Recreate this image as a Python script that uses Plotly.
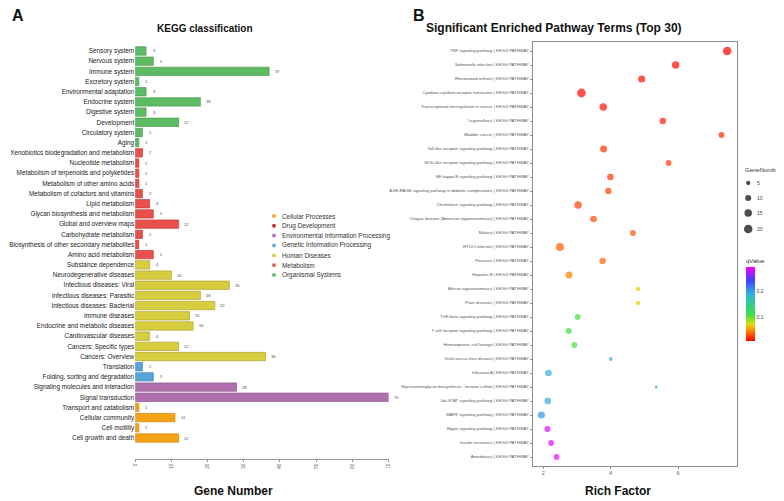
import plotly.graph_objects as go

# Reference page size; the page body keeps an 8px margin, so the figure starts at (8, 8)
W, H = 784, 501
OFF = 8
FW, FH = W - OFF, H - OFF

# ---------------- Panel A data ----------------
kegg_terms = [
    "Sensory system", "Nervous system", "Immune system", "Excretory system",
    "Environmental adaptation", "Endocrine system", "Digestive system", "Development",
    "Circulatory system", "Aging",
    "Xenobiotics biodegradation and metabolism", "Nucleotide metabolism",
    "Metabolism of terpenoids and polyketides", "Metabolism of other amino acids",
    "Metabolism of cofactors and vitamins", "Lipid metabolism",
    "Glycan biosynthesis and metabolism", "Global and overview maps",
    "Carbohydrate metabolism", "Biosynthesis of other secondary metabolites",
    "Amino acid metabolism",
    "Substance dependence", "Neurodegenerative diseases", "Infectious diseases: Viral",
    "Infectious diseases: Parasitic", "Infectious diseases: Bacterial", "Immune diseases",
    "Endocrine and metabolic diseases", "Cardiovascular diseases", "Cancers: Specific types",
    "Cancers: Overview",
    "Translation", "Folding, sorting and degradation",
    "Signaling molecules and interaction", "Signal transduction",
    "Transport and catabolism", "Cellular community", "Cell motility", "Cell growth and death",
]
kegg_counts = [3, 5, 37, 1, 3, 18, 3, 12, 2, 1,
               2, 1, 1, 1, 2, 4, 5, 12, 2, 1, 5,
               4, 10, 26, 18, 22, 15, 16, 4, 12, 36,
               2, 5,
               28, 70,
               1, 11, 1, 12]
kegg_groups = (["Organismal Systems"] * 10 + ["Metabolism"] * 11 + ["Human Diseases"] * 10 +
               ["Genetic Information Processing"] * 2 +
               ["Environmental Information Processing"] * 2 + ["Cellular Processes"] * 4)

group_names = ["Cellular Processes", "Drug Development", "Environmental Information Processing",
               "Genetic Information Processing", "Human Diseases", "Metabolism", "Organismal Systems"]
group_fill = {"Cellular Processes": "#F5A316", "Drug Development": "#C41E24",
              "Environmental Information Processing": "#B070AF",
              "Genetic Information Processing": "#5AA4DC", "Human Diseases": "#D8CD3E",
              "Metabolism": "#E8504C", "Organismal Systems": "#5DBB63"}
group_line = {"Cellular Processes": "#D08810", "Drug Development": "#A01418",
              "Environmental Information Processing": "#8E5A8E",
              "Genetic Information Processing": "#4784B2", "Human Diseases": "#ADA32E",
              "Metabolism": "#C43E3B", "Organismal Systems": "#4A9A50"}

# ---------------- Panel B data ----------------
pathways = [
    "TNF signaling pathway", "Salmonella infection", "Rheumatoid arthritis",
    "Cytokine-cytokine receptor interaction", "Transcriptional misregulation in cancer",
    "Legionellosis", "Bladder cancer", "Toll-like receptor signaling pathway",
    "NOD-like receptor signaling pathway", "NF-kappa B signaling pathway",
    "AGE-RAGE signaling pathway in diabetic complications", "Chemokine signaling pathway",
    "Chagas disease (American trypanosomiasis)", "Malaria", "HTLV-I infection", "Pertussis",
    "Hepatitis B", "African trypanosomiasis", "Prion diseases", "TGF-beta signaling pathway",
    "T cell receptor signaling pathway", "Hematopoietic cell lineage",
    "Graft-versus-host disease", "Influenza A",
    "Glycosaminoglycan biosynthesis - keratan sulfate", "Jak-STAT signaling pathway",
    "MAPK signaling pathway", "Hippo signaling pathway", "Insulin resistance", "Amoebiasis",
]
rich_factor = [7.46, 5.93, 4.92, 3.13, 3.78, 5.55, 7.29, 3.79, 5.72, 3.99,
               3.93, 3.03, 3.49, 4.66, 2.49, 3.76, 2.76, 4.81, 4.81, 3.02,
               2.75, 2.92, 4.00, 2.15, 5.35, 2.13, 1.94, 2.12, 2.23, 2.39]
gene_number = [20, 15, 14, 21, 15, 11, 9, 13, 9, 12,
               11, 15, 12, 9, 18, 11, 14, 6, 6, 9,
               10, 9, 4, 12, 1, 12, 14, 10, 9, 9]
q_value = [0.013, 0.015, 0.016, 0.016, 0.018, 0.020, 0.024, 0.027, 0.029, 0.030,
           0.031, 0.032, 0.034, 0.036, 0.040, 0.042, 0.050, 0.072, 0.072, 0.110,
           0.110, 0.112, 0.190, 0.188, 0.190, 0.192, 0.200, 0.280, 0.280, 0.282]
legend_sizes = [5, 10, 15, 20]
q_ticks = [0.1, 0.2]


def px_x(v):
    return (v - OFF) / FW


def px_y(v):
    return 1 - (v - OFF) / FH


FONT = "Liberation Sans, Arial, sans-serif"
fig = go.Figure()

# ---- Panel A bars ----
for g in group_names:
    idx = [i for i, gg in enumerate(kegg_groups) if gg == g]
    if not idx:
        continue
    fig.add_trace(go.Bar(
        orientation="h", x=[kegg_counts[i] for i in idx], y=[kegg_terms[i] for i in idx],
        width=0.82, marker=dict(color=group_fill[g], line=dict(color=group_line[g], width=0.7)),
        showlegend=False, xaxis="x", yaxis="y", hoverinfo="x+y"))

annotations = []
for t, c in zip(kegg_terms, kegg_counts):
    annotations.append(dict(x=c, y=t, xref="x", yref="y", text=str(c), showarrow=False,
                            xshift=8, font=dict(size=4, color="#444", family=FONT)))

# ---- Panel B bubbles ----
labels_b = [p + " | KEGG PATHWAY" for p in pathways]
cmin, cmax = 0.013, 0.289
cscale = [[0.0, "#FF0000"], [0.06, "#FF3A00"], [0.134, "#FF8000"], [0.225, "#E0DC10"],
          [0.35, "#40E040"], [0.64, "#30B0E0"], [0.82, "#4040FF"], [1.0, "#FF00FF"]]
max_d = 8.6
sizeref = 2 * 20 / max_d ** 2
fig.add_trace(go.Scatter(
    x=rich_factor, y=labels_b, mode="markers", xaxis="x2", yaxis="y2", showlegend=False,
    marker=dict(size=gene_number, sizemode="area", sizeref=sizeref, sizemin=1.5,
                color=q_value, cmin=cmin, cmax=cmax, colorscale=cscale, line=dict(width=0),
                colorbar=dict(x=px_x(748), xanchor="left", y=px_y(267), yanchor="top",
                              len=74, lenmode="pixels", thickness=8.5, thicknessmode="pixels",
                              xpad=0, ypad=0, outlinewidth=0, ticks="",
                              tickvals=q_ticks, ticktext=[str(v) for v in q_ticks],
                              tickfont=dict(size=5, color="#444", family=FONT)))))

# ---- legends on a pixel-space overlay axis (reference page pixels) ----
leg_y = [216 + 9.83 * i for i in range(len(group_names))]
fig.add_trace(go.Scatter(
    x=[272.7] * len(group_names), y=leg_y, mode="markers", xaxis="x3", yaxis="y3",
    showlegend=False, hoverinfo="skip",
    marker=dict(symbol="square", size=3.3, color=[group_fill[g] for g in group_names])))
for g, yy in zip(group_names, leg_y):
    annotations.append(dict(x=279, y=yy, xref="x3", yref="y3", text=g, showarrow=False,
                            xanchor="left", font=dict(size=6.4, color="#333", family=FONT)))

gl_y = [183, 198, 213, 229]
fig.add_trace(go.Scatter(
    x=[750] * 4, y=gl_y, mode="markers", xaxis="x3", yaxis="y3", showlegend=False,
    hoverinfo="skip",
    marker=dict(size=legend_sizes, sizemode="area", sizeref=sizeref, color="black",
                line=dict(width=0))))
for s, yy in zip(legend_sizes, gl_y):
    annotations.append(dict(x=757, y=yy, xref="x3", yref="y3", text=str(s), showarrow=False,
                            xanchor="left", font=dict(size=5, color="#444", family=FONT)))
annotations.append(dict(x=745, y=170, xref="x3", yref="y3", text="GeneNumber", showarrow=False,
                        xanchor="left", font=dict(size=6, color="#333", family=FONT)))
annotations.append(dict(x=746, y=261, xref="x3", yref="y3", text="qValue", showarrow=False,
                        xanchor="left", font=dict(size=6, color="#333", family=FONT)))


# ---- titles ----
def title(txt, x, y, size):
    annotations.append(dict(x=px_x(x), y=px_y(y), xref="paper", yref="paper", text="<b>%s</b>" % txt,
                            showarrow=False, xanchor="center", yanchor="middle",
                            font=dict(size=size, color="#111", family=FONT)))


title("A", 15, 15, 16)
title("B", 419, 15, 16)
title("KEGG classification", 203, 28, 10)
title("Significant Enriched Pathway Terms (Top 30)", 555, 28, 12)
title("Gene Number", 232, 491, 12)
title("Rich Factor", 619, 491, 12)

# y ranges from pixel geometry
a_step = (438 - 51) / (len(kegg_terms) - 1)
a_lo = -(459 - 438) / a_step
a_hi = (len(kegg_terms) - 1) + (51 - 46) / a_step
b_step = (457 - 51) / (len(pathways) - 1)
b_lo = -(466 - 457) / b_step
b_hi = (len(pathways) - 1) + (51 - 42) / b_step

fig.update_layout(
    width=FW, height=FH, margin=dict(l=0, r=0, t=0, b=0),
    paper_bgcolor="white", plot_bgcolor="rgba(0,0,0,0)",
    font=dict(family=FONT), bargap=0.18,
    xaxis=dict(domain=[px_x(133), px_x(388)], anchor="y", range=[0, 70], dtick=10,
               showline=True, linecolor="#999", linewidth=1, ticks="outside", ticklen=2,
               tickcolor="#999", tickangle=-90, tickfont=dict(size=4.5, color="#555"),
               showgrid=False, zeroline=False),
    yaxis=dict(domain=[px_y(459), px_y(46)], anchor="x", type="category",
               categoryorder="array", categoryarray=kegg_terms[::-1], range=[a_lo, a_hi],
               showline=False, ticks="", showgrid=False, zeroline=False,
               tickfont=dict(size=6.4, color="#222")),
    xaxis2=dict(domain=[px_x(533), px_x(739)], anchor="y2", range=[1.68, 7.76],
                tickvals=[2, 4, 6], showline=True, mirror=True, linecolor="#8c8c8c",
                linewidth=1, ticks="outside", ticklen=2, tickcolor="#8c8c8c",
                tickfont=dict(size=5, color="#555"), showgrid=False, zeroline=False),
    yaxis2=dict(domain=[px_y(466), px_y(42)], anchor="x2", type="category",
                categoryorder="array", categoryarray=labels_b[::-1], range=[b_lo, b_hi],
                showline=True, mirror=True, linecolor="#8c8c8c", linewidth=1,
                ticks="outside", ticklen=2, tickcolor="#8c8c8c",
                tickfont=dict(size=4.2, color="#555"), showgrid=False, zeroline=False),
    xaxis3=dict(domain=[0, 1], anchor="y3", range=[OFF, W], visible=False, fixedrange=True),
    yaxis3=dict(domain=[0, 1], anchor="x3", range=[H, OFF], visible=False, fixedrange=True),
    annotations=annotations,
)

fig.write_html("out.html")
